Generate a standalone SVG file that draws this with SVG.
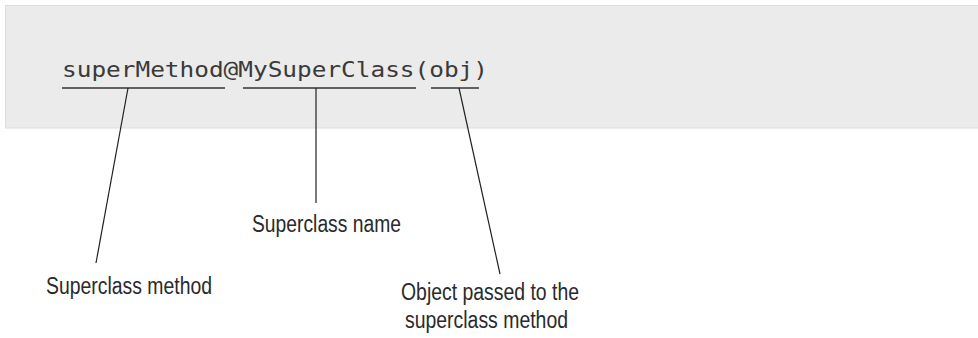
<svg xmlns="http://www.w3.org/2000/svg" width="978" height="338" viewBox="0 0 978 338">
<style>
.code{font-family:"DejaVu Sans Mono","Liberation Mono",monospace;font-size:21px;fill:#3a3a3a}
.lbl{font-family:"Liberation Sans",Arial,sans-serif;font-size:23.5px;fill:#2a2a2a}
.ul{stroke:#333;stroke-width:1.6}
.conn{stroke:#222;stroke-width:1.2;fill:none}
</style>
<rect x="0" y="0" width="978" height="338" fill="#fff"/>
<g id="code-box">
<rect x="5.5" y="5.5" width="975" height="122.5" fill="#ebebeb" stroke="#dcdcdc" stroke-width="1"/>
<text class="code" x="62" y="77" textLength="426" lengthAdjust="spacingAndGlyphs">superMethod@MySuperClass(obj)</text>
</g>
<g id="underlines">
<line class="ul" x1="62" y1="88" x2="225" y2="88"/>
<line class="ul" x1="243" y1="88" x2="416" y2="88"/>
<line class="ul" x1="431" y1="88" x2="479" y2="88"/>
</g>
<g id="connectors">
<line class="conn" x1="128" y1="88" x2="96" y2="263"/>
<line class="conn" x1="316" y1="88" x2="316" y2="203"/>
<line class="conn" x1="459" y1="88" x2="500" y2="274"/>
</g>
<g id="label-method">
<text class="lbl" x="46" y="294" textLength="166" lengthAdjust="spacingAndGlyphs">Superclass method</text>
</g>
<g id="label-name">
<text class="lbl" x="252" y="232" textLength="149" lengthAdjust="spacingAndGlyphs">Superclass name</text>
</g>
<g id="label-object">
<text class="lbl" x="401" y="300" textLength="178" lengthAdjust="spacingAndGlyphs">Object passed to the</text>
<text class="lbl" x="405" y="328" textLength="163" lengthAdjust="spacingAndGlyphs">superclass method</text>
</g>
</svg>
